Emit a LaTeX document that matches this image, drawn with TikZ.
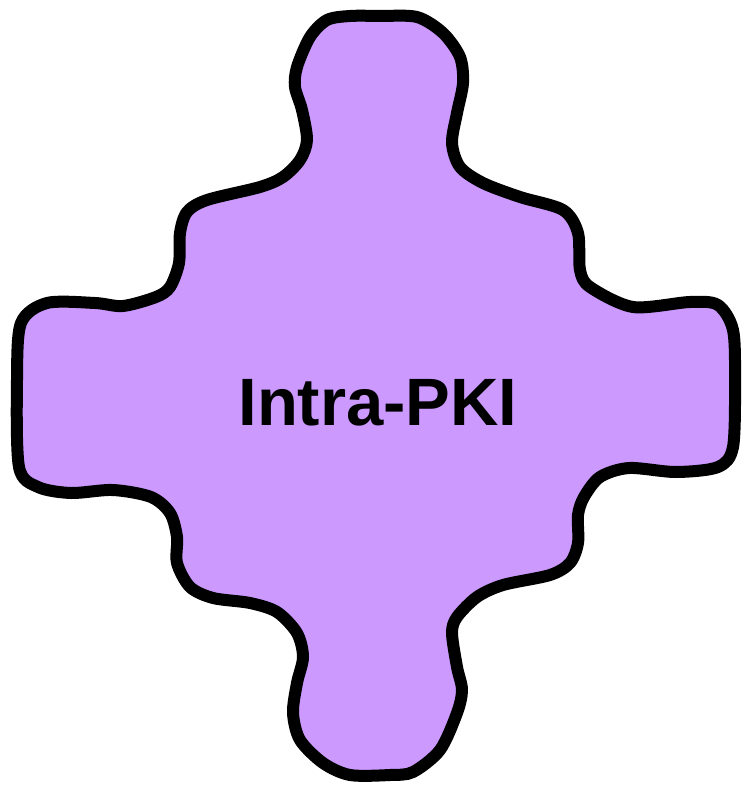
\documentclass[tikz,border=0pt]{standalone}
\usepackage{fontspec}
\setmainfont{Liberation Sans}
\definecolor{blobfill}{RGB}{204,153,255}
\tikzset{blob/.style={draw=black, fill=blobfill, line width=12pt, line join=round},
         label/.style={font=\fontsize{67}{70}\selectfont\bfseries, inner sep=0pt, anchor=base}}
\begin{document}
\begin{tikzpicture}[x=1pt,y=-1pt]
\useasboundingbox (0,0) rectangle (741,786);
\draw[blob] plot[smooth cycle, tension=0.5] coordinates {
(380,16) (417,17) (443,33) (460,57) (463,83) (457,113) (452,143) (460,167) (483,183) (520,197) (563,210) (578,233) (580,270) (590,287) (633,307) (690,302) (718,305) (733,330) (735,380) (733,447) (718,467) (676,472) (629,468) (600,477) (584,497) (578,515) (578,543) (570,563) (550,575) (503,585) (477,597) (457,617) (452,633) (457,667) (462,690) (457,713) (440,750) (413,772) (390,775) (350,775) (323,763) (300,740) (293,713) (297,683) (303,657) (297,633) (277,612) (250,603) (213,598) (190,587) (177,563) (177,537) (170,513) (151,497) (113,490) (71,493) (38,487) (19,467) (17,380) (21,323) (47,303) (95,303) (123,306) (156,297) (170,287) (179,263) (180,233) (187,212) (207,200) (260,187) (283,177) (300,160) (307,140) (302,110) (295,87) (297,67) (310,37) (327,20) (350,16)};
\node[label] (title) at (378,425) {Intra-PKI};
\end{tikzpicture}
\end{document}
